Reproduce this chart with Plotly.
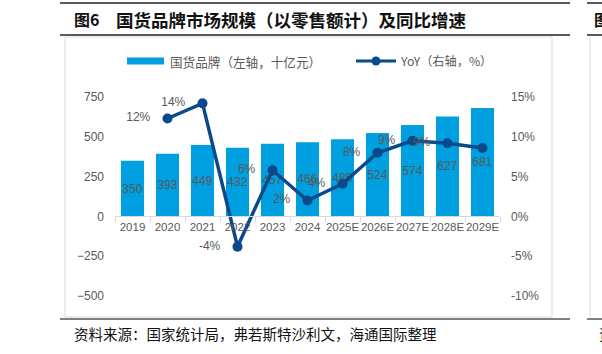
import plotly.graph_objects as go

# ---- data ----
years = ["2019", "2020", "2021", "2022", "2023", "2024", "2025E", "2026E", "2027E", "2028E", "2029E"]
market_size = [350, 393, 449, 432, 457, 466, 485, 524, 574, 627, 681]  # 十亿元
yoy = [None, 12.3, 14.2, -3.8, 5.8, 2.0, 4.1, 8.0, 9.5, 9.2, 8.6]      # %
yoy_labels = ["", "12%", "14%", "-4%", "6%", "2%", "4%", "8%", "9%", "9%", ""]
left_ticks = [-500, -250, 0, 250, 500, 750]
right_ticks = [-10, -5, 0, 5, 10, 15]
right_tick_text = ["-10%", "-5%", "0%", "5%", "10%", "15%"]

# ---- style ----
W, H = 602, 354
ML, MR, MT, MB = 115, 102, 97, 58
PW, PH = W - ML - MR, H - MT - MB
BAR_C = "#009FE0"
LINE_C = "#0A4A8A"
TXT_C = "#595959"
CJK = "Noto Sans CJK SC"
LAT = "Liberation Sans, Arial"
PAD = "\u00a0\u00a0\u00a0"


def px(x):
    return (x - ML) / PW


def py(y):
    return (H - MB - y) / PH


fig = go.Figure()
fig.add_trace(go.Bar(
    x=years, y=market_size, marker=dict(color=BAR_C, line=dict(width=0)),
    text=[str(v) for v in market_size], textposition="inside", insidetextanchor="middle",
    textangle=0, textfont=dict(color=TXT_C, size=12, family=LAT),
    name="国货品牌（左轴，十亿元）", showlegend=False, cliponaxis=False,
))
fig.add_trace(go.Scatter(
    x=years, y=yoy, yaxis="y2", mode="lines+markers+text",
    line=dict(color=LINE_C, width=3.5), marker=dict(color=LINE_C, size=10),
    text=[(t + PAD) if t else "" for t in yoy_labels], textposition="middle left",
    textfont=dict(color=TXT_C, size=12, family=LAT),
    name="YoY（右轴，%）", showlegend=False, cliponaxis=False,
))

fig.update_layout(
    width=W, height=H, margin=dict(l=ML, r=MR, t=MT, b=MB, pad=0, autoexpand=False),
    paper_bgcolor="white", plot_bgcolor="white",
    bargap=0.34, showlegend=False,
    uniformtext=dict(minsize=12, mode="show"),
    xaxis=dict(type="category", anchor="free", position=0.4, automargin=False,
               range=[-0.5, len(years) - 0.5],
               showline=True, linecolor="#D9D9D9", linewidth=1,
               ticks="outside", tickson="boundaries", ticklen=5, tickcolor="#D9D9D9",
               showgrid=False, zeroline=False, tickangle=0,
               tickfont=dict(color=TXT_C, size=11.5, family=LAT)),
    yaxis=dict(range=[-500, 750], tickvals=left_ticks, showgrid=False, zeroline=False,
               showline=False, ticks="", ticklabelstandoff=10, automargin=False,
               tickfont=dict(color=TXT_C, size=12, family=LAT)),
    yaxis2=dict(range=[-10, 15], tickvals=right_ticks, ticktext=right_tick_text, overlaying="y",
                side="right", showgrid=False, zeroline=False, showline=False, ticks="",
                ticklabelstandoff=10, automargin=False,
                tickfont=dict(color=TXT_C, size=12, family=LAT)),
)

shapes = []
# frame lines
for yy, col, w in [(3, "#222222", 1.5), (35, "#222222", 1.5), (319, "#808080", 2)]:
    shapes.append(dict(type="line", xref="paper", yref="paper", x0=px(60), x1=px(570),
                       y0=py(yy), y1=py(yy), line=dict(color=col, width=w)))
    shapes.append(dict(type="line", xref="paper", yref="paper", x0=px(587), x1=px(604),
                       y0=py(yy), y1=py(yy), line=dict(color=col, width=w)))
# chart box
shapes.append(dict(type="rect", xref="paper", yref="paper", x0=px(65), x1=px(552),
                   y0=py(317), y1=py(37), line=dict(color="#D9D9D9", width=1)))
shapes.append(dict(type="line", xref="paper", yref="paper", x0=px(590), x1=px(590),
                   y0=py(317), y1=py(37), line=dict(color="#D9D9D9", width=1)))
# legend swatches
shapes.append(dict(type="rect", xref="paper", yref="paper", x0=px(127), x1=px(164),
                   y0=py(64.5), y1=py(57.5), fillcolor=BAR_C, line=dict(width=0)))
shapes.append(dict(type="line", xref="paper", yref="paper", x0=px(356), x1=px(396),
                   y0=py(61), y1=py(61), line=dict(color=LINE_C, width=3)))
shapes.append(dict(type="circle", xref="paper", yref="paper", x0=px(371.5), x1=px(380.5),
                   y0=py(65.5), y1=py(56.5), fillcolor=LINE_C, line=dict(color=LINE_C, width=0)))
fig.update_layout(shapes=shapes)

ann = [
    dict(text="<b>图6</b>", x=px(72), y=py(19), font=dict(size=16, color="#111111", family=CJK)),
    dict(text="国货品牌市场规模（以零售额计）及同比增速", x=px(114), y=py(19),
         font=dict(size=17.5, color="#111111", family=CJK, weight=600)),
    dict(text="国货品牌（左轴，十亿元）", x=px(168), y=py(61),
         font=dict(size=12.6, color=TXT_C, family=CJK)),
    dict(text="YoY（右轴，%）", x=px(398), y=py(61),
         font=dict(size=12.2, color=TXT_C, family=CJK)),
    dict(text="资料来源：国家统计局，弗若斯特沙利文，海通国际整理", x=px(72), y=py(333),
         font=dict(size=14.5, color="#111111", family=CJK)),
    dict(text="<b>图</b>", x=px(592), y=py(19), font=dict(size=16, color="#111111", family=CJK)),
    dict(text="资", x=px(597), y=py(333), font=dict(size=14.5, color="#111111", family=CJK)),
]
for a in ann:
    a.update(xref="paper", yref="paper", xanchor="left", yanchor="middle", showarrow=False)
fig.update_layout(annotations=ann)

fig.write_html("out.html")
